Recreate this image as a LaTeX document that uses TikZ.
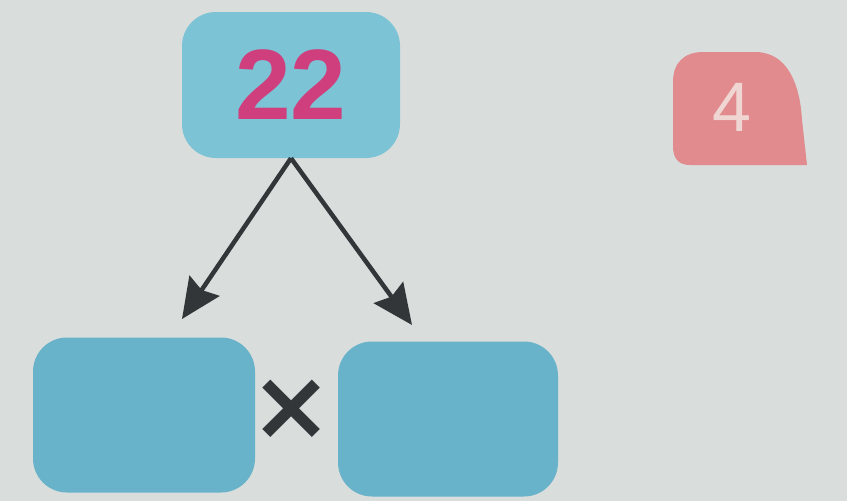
\documentclass[tikz,border=0pt]{standalone}
\usepackage{fontspec}
\setmainfont{Liberation Sans}
\newfontfamily\crossfont{DejaVu Sans}
\usetikzlibrary{arrows.meta}
\definecolor{bg}{HTML}{D9DDDC}
\definecolor{topblue}{HTML}{7CC3D6}
\definecolor{botblue}{HTML}{69B3CA}
\definecolor{numpink}{HTML}{CF3F7D}
\definecolor{badge}{HTML}{E18B8E}
\definecolor{badgetext}{HTML}{F0D6D3}
\definecolor{arrowgray}{HTML}{333638}
\tikzset{
  bluebox/.style={rectangle, rounded corners=34pt, inner sep=0pt},
  connector/.style={draw=arrowgray, line width=4.5pt,
    -{Stealth[length=40pt,width=36pt,inset=5pt]}},
}
\begin{document}
\begin{tikzpicture}[x=1pt,y=-1pt]
\useasboundingbox[fill=bg] (0,0) rectangle (847,501);
% top box
\node[bluebox, fill=topblue, minimum width=218pt, minimum height=146pt] (top) at (291,85)
  {\fontsize{100}{100}\selectfont\bfseries\color{numpink}22};
% bottom boxes
\node[bluebox, fill=botblue, minimum width=222pt, minimum height=155pt] (left) at (144,415) {};
\node[bluebox, fill=botblue, minimum width=220pt, minimum height=155pt] (right) at (448,419) {};
% multiplication sign
\node[text=arrowgray, inner sep=0pt] (times) at (292,410) {\fontsize{98}{98}\selectfont\crossfont\bfseries ×};
% arrow ends
\coordinate (lend) at (182,319);
\coordinate (rend) at (412,325);
\draw[connector] (top.south) -- (lend);
\draw[connector] (top.south) -- (rend);
% badge
\fill[badge] (703,52) -- (755,52) .. controls (788,52) and (800,85) .. (802,120)
  -- (807,165) -- (690,165) .. controls (678,165) and (673,158) .. (673,146)
  -- (673,82) .. controls (673,62) and (685,52) .. (703,52) -- cycle;
\node[text=badgetext, inner sep=0pt] (four) at (732,107) {\fontsize{70}{70}\selectfont 4};
\end{tikzpicture}
\end{document}
